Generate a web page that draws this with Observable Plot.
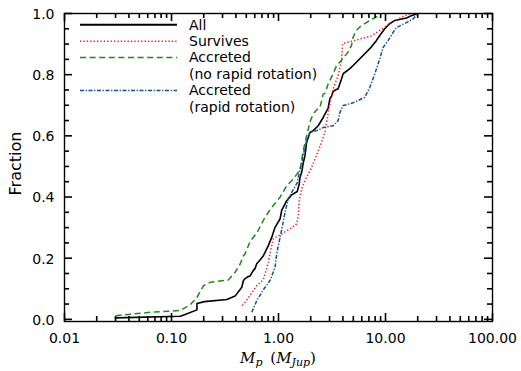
<!DOCTYPE html>
<html><head><meta charset="utf-8">
<script src="https://cdn.jsdelivr.net/npm/d3@7"></script>
<script src="https://cdn.jsdelivr.net/npm/@observablehq/plot@0.6"></script>
<style>html,body{margin:0;padding:0;background:#fff;}</style>
</head><body><div id="chart"></div>
<script>
// ---- data ----
const seriesNames = ["All", "Survives", "Accreted\n(no rapid rotation)", "Accreted\n(rapid rotation)"];

const allMass = [0.030, 0.030, 0.121, 0.125, 0.173, 0.173, 0.203, 0.329, 0.393, 0.454, 0.470, 0.487, 0.523, 0.543, 0.582, 0.604, 0.626, 0.672, 0.722, 0.803, 0.864, 0.928, 1.033, 1.071, 1.193, 1.328, 1.497, 1.563, 1.587, 1.646, 1.703, 1.767, 1.832, 1.967, 2.111, 2.350, 2.617, 2.913, 3.022, 3.133, 3.243, 3.364, 3.611, 3.745, 3.885, 4.020, 4.642, 4.983, 5.754, 6.643, 7.396, 8.235, 8.84, 9.84, 10.95, 12.2, 15.7, 17.46, 20.0];
const allFrac = [0.000, 0.005, 0.010, 0.012, 0.031, 0.052, 0.058, 0.065, 0.076, 0.105, 0.127, 0.133, 0.140, 0.142, 0.160, 0.166, 0.182, 0.194, 0.208, 0.241, 0.268, 0.301, 0.328, 0.356, 0.388, 0.407, 0.418, 0.443, 0.464, 0.480, 0.512, 0.535, 0.579, 0.611, 0.617, 0.633, 0.660, 0.691, 0.722, 0.730, 0.745, 0.749, 0.754, 0.770, 0.787, 0.803, 0.820, 0.830, 0.852, 0.874, 0.891, 0.912, 0.928, 0.950, 0.967, 0.977, 0.985, 0.993, 1.000];

const survMass = [0.460, 0.5425, 0.626, 0.722, 0.803, 0.833, 0.894, 1.071, 1.280, 1.478, 1.530, 1.563, 1.646, 1.832, 2.040, 2.350, 2.714, 2.958, 3.243, 3.611, 3.885, 3.968, 7.396, 9.84, 12.2, 14.58, 17.19];
const survFrac = [0.045, 0.078, 0.110, 0.130, 0.185, 0.215, 0.264, 0.279, 0.296, 0.312, 0.339, 0.388, 0.427, 0.465, 0.497, 0.550, 0.610, 0.689, 0.754, 0.797, 0.846, 0.901, 0.927, 0.955, 0.976, 0.990, 1.000];

const accNoMass = [0.030, 0.063, 0.121, 0.150, 0.173, 0.199, 0.230, 0.340, 0.393, 0.438, 0.470, 0.487, 0.543, 0.626, 0.748, 0.864, 1.033, 1.193, 1.374, 1.530, 1.587, 1.703, 1.832, 1.967, 2.111, 2.350, 2.437, 2.617, 2.714, 2.913, 3.022, 3.243, 3.488, 3.885, 4.475, 4.814, 4.983, 5.36, 5.754, 6.40, 7.13, 8.235, 9.17];
const accNoFrac = [0.012, 0.023, 0.029, 0.048, 0.072, 0.110, 0.121, 0.129, 0.154, 0.181, 0.208, 0.214, 0.255, 0.282, 0.334, 0.366, 0.399, 0.437, 0.459, 0.481, 0.486, 0.552, 0.600, 0.645, 0.672, 0.690, 0.692, 0.737, 0.738, 0.770, 0.781, 0.803, 0.830, 0.847, 0.874, 0.896, 0.923, 0.945, 0.956, 0.967, 0.977, 0.989, 1.000];

const accRapMass = [0.5625, 0.626, 0.722, 0.833, 0.928, 0.962, 1.033, 1.094, 1.150, 1.234, 1.374, 1.497, 1.563, 1.646, 1.703, 1.832, 1.967, 2.271, 2.617, 3.243, 3.611, 3.745, 4.020, 4.983, 6.40, 7.13, 7.94, 8.84, 9.49, 10.56, 11.76, 12.65, 15.7, 18.07, 20.12];
const accRapFrac = [0.023, 0.061, 0.097, 0.127, 0.170, 0.215, 0.267, 0.310, 0.349, 0.395, 0.424, 0.447, 0.480, 0.512, 0.539, 0.584, 0.611, 0.617, 0.627, 0.633, 0.650, 0.676, 0.699, 0.708, 0.726, 0.758, 0.802, 0.852, 0.889, 0.911, 0.938, 0.954, 0.970, 0.982, 1.000];

const xTicks = [0.01, 0.1, 1, 10, 100];
const xTickLabels = ["0.01", "0.10", "1.00", "10.00", "100.00"];
const xMinorTicks = [0.02,0.03,0.04,0.05,0.06,0.07,0.08,0.09, 0.2,0.3,0.4,0.5,0.6,0.7,0.8,0.9, 2,3,4,5,6,7,8,9, 20,30,40,50,60,70,80,90];
const yTicks = [0, 0.2, 0.4, 0.6, 0.8, 1.0];
const yTickLabels = ["0.0", "0.2", "0.4", "0.6", "0.8", "1.0"];
const yMinorTicks = [0.05,0.1,0.15, 0.25,0.3,0.35, 0.45,0.5,0.55, 0.65,0.7,0.75, 0.85,0.9,0.95];

// ---- styles ----
const seriesStyle = [
  {mass: allMass,    frac: allFrac,    color: "#000000", dash: null,            width: 1.6},
  {mass: survMass,   frac: survFrac,   color: "#f01818", dash: "1.3,2.1",       width: 1.5},
  {mass: accNoMass,  frac: accNoFrac,  color: "#23881a", dash: "6,3.6",         width: 1.5},
  {mass: accRapMass, frac: accRapFrac, color: "#17508e", dash: "4,1.6,1.3,1.6", width: 1.5}
];

const W = 521, H = 371, mL = 64, mR = 29, mT = 13, mB = 50;
const innerH = H - mT - mB, innerW = W - mL - mR;
const majorLen = 8, minorLen = 5, tickW = 1.6;

const lineMarks = [0, 2, 3, 1].map(k => {
  const s = seriesStyle[k];
  const rows = s.mass.map((m, i) => ({mass: m, frac: s.frac[i], series: seriesNames[k]}));
  return Plot.line(rows, {x: "mass", y: "frac", stroke: s.color, strokeWidth: s.width,
    strokeDasharray: s.dash, strokeLinejoin: "round", strokeLinecap: "butt"});
});

const tickStyle = {stroke: "black", strokeWidth: tickW};
const chart = Plot.plot({
  width: W, height: H,
  marginLeft: mL, marginRight: mR, marginTop: mT, marginBottom: mB,
  style: {background: "white", color: "black", fontFamily: "'DejaVu Sans', sans-serif", fontSize: "14px", overflow: "visible"},
  x: {type: "log", domain: [0.01, 100], label: null},
  y: {domain: [-0.007, 1], label: null},
  marks: [
    ...lineMarks,
    // inward ticks: bottom, top, left, right
    Plot.ruleX(xTicks, {x: d => d, insetTop: innerH - majorLen, ...tickStyle}),
    Plot.ruleX(xMinorTicks, {x: d => d, insetTop: innerH - minorLen, ...tickStyle}),
    Plot.ruleX(xTicks, {x: d => d, insetBottom: innerH - majorLen, ...tickStyle}),
    Plot.ruleX(xMinorTicks, {x: d => d, insetBottom: innerH - minorLen, ...tickStyle}),
    Plot.ruleY(yTicks, {y: d => d, insetRight: innerW - majorLen, ...tickStyle}),
    Plot.ruleY(yMinorTicks, {y: d => d, insetRight: innerW - minorLen, ...tickStyle}),
    Plot.ruleY(yTicks, {y: d => d, insetLeft: innerW - majorLen, ...tickStyle}),
    Plot.ruleY(yMinorTicks, {y: d => d, insetLeft: innerW - minorLen, ...tickStyle}),
    Plot.axisX({ticks: xTicks, tickSize: 0, tickPadding: 12, label: null,
      tickFormat: d => xTickLabels[xTicks.indexOf(d)]}),
    Plot.axisY({ticks: yTicks, tickSize: 0, tickPadding: 10, label: null, dy: 1,
      tickFormat: d => yTickLabels[yTicks.indexOf(d)]}),
    Plot.frame({stroke: "black", strokeWidth: 1.4})
  ]
});

document.getElementById("chart").appendChild(chart);
const svg = d3.select(chart);

// ---- titles and legend ----
svg.append("text")
  .attr("transform", "translate(20.5,163.5) rotate(-90)")
  .attr("text-anchor", "middle")
  .attr("font-family", "'DejaVu Sans', sans-serif")
  .attr("font-size", 16)
  .attr("fill", "black")
  .text("Fraction");

const xt = svg.append("text")
  .attr("x", mL + innerW / 2).attr("y", 363)
  .attr("text-anchor", "middle")
  .attr("font-family", "'DejaVu Serif', serif")
  .attr("font-size", 15)
  .attr("fill", "black");
xt.append("tspan").attr("font-style", "italic").text("M");
xt.append("tspan").attr("font-style", "italic").attr("font-size", 11).attr("dy", 3).text("p");
xt.append("tspan").attr("dy", -3).text("\u2009 (");
xt.append("tspan").attr("font-style", "italic").text("M");
xt.append("tspan").attr("font-style", "italic").attr("font-size", 11).attr("dy", 3).text("Jup");
xt.append("tspan").attr("dy", -3).text(")");

const lg = svg.append("g")
  .attr("font-family", "'DejaVu Sans', sans-serif")
  .attr("font-size", 14)
  .attr("text-anchor", "start")
  .attr("fill", "black");
let row = 0;
const rowStep = 16.4, firstBase = 29.5;
seriesNames.forEach((name, k) => {
  const s = seriesStyle[k];
  const base = firstBase + row * rowStep;
  lg.append("line")
    .attr("x1", 80).attr("x2", 177)
    .attr("y1", base - 4.7).attr("y2", base - 4.7)
    .attr("stroke", s.color).attr("stroke-width", k === 0 ? 2 : 1.5)
    .attr("stroke-dasharray", s.dash);
  name.split("\n").forEach((t, j) => {
    lg.append("text").attr("x", 189).attr("y", base + j * rowStep).text(t);
  });
  row += name.split("\n").length;
});
</script>
</body></html>
